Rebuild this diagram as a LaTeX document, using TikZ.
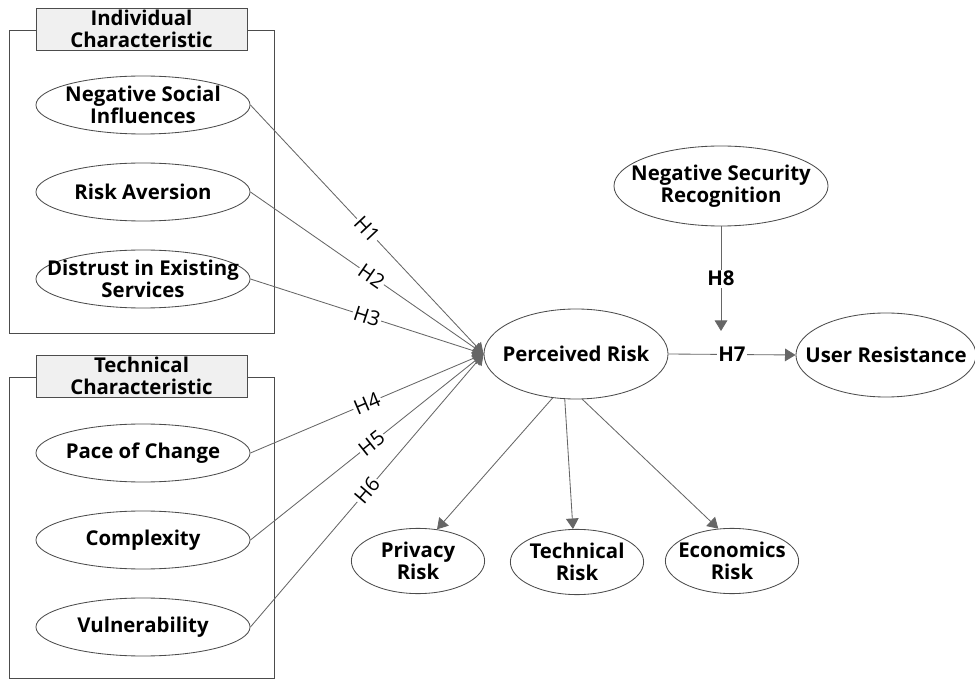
\documentclass[tikz,border=0pt]{standalone}
\usepackage{fontspec}
\setmainfont{Open Sans}
\usetikzlibrary{arrows.meta, calc, shapes.geometric}

\begin{document}
\begin{tikzpicture}[x=0.025cm, y=-0.025cm,
    >={Triangle[length=7.5pt, width=9pt]}, line width=0.6pt,
    font=\fontsize{14.5}{16}\selectfont\bfseries,
    lat/.style={ellipse, draw=black!70, align=center, inner sep=-20pt,
      minimum width=5.35cm, minimum height=1.45cm},
    small/.style={lat, minimum width=3.33cm, minimum height=1.63cm},
    group/.style={draw=black!70, fill=black!6, align=center, inner sep=0pt,
      minimum width=5.275cm, minimum height=1.05cm},
    link/.style={draw=black!60, ->},
    hyp/.style={fill=white, inner sep=1pt, font=\fontsize{14.5}{16}\selectfont\mdseries}]
  \useasboundingbox (0,0) rectangle (975,682);
  % marcos de los grupos
  \draw[black!70] (9,30) rectangle (274,333);
  \draw[black!70] (9,377) rectangle (274,678);
  \node[group] (indiv) at (141.5,29) {Individual\\Characteristic};
  \node[group] (tech) at (141.5,376) {Technical\\Characteristic};
  % constructos individuales
  \node[lat] (nsi) at (143,105) {Negative Social\\Influences};
  \node[lat] (ra) at (143,192) {Risk Aversion};
  \node[lat] (des) at (143,279) {Distrust in Existing\\Services};
  % constructos tecnicos
  \node[lat] (pc) at (143,453) {Pace of Change};
  \node[lat] (cx) at (143,540) {Complexity};
  \node[lat] (vu) at (143,627) {Vulnerability};
  % riesgo percibido y resistencia
  \node[lat, minimum width=4.6cm, minimum height=2.25cm] (pr) at (576,354) {Perceived Risk};
  \node[lat, minimum width=4.5cm, minimum height=2.1cm] (ur) at (886,355) {User Resistance};
  \node[lat, minimum width=5.35cm, minimum height=2cm] (nsr) at (721,186) {Negative Security\\Recognition};
  \coordinate (mod) at (721,331);
  % dimensiones del riesgo
  \node[small] (prv) at (418,561) {Privacy\\Risk};
  \node[small] (trk) at (577,562) {Technical\\Risk};
  \node[small] (erk) at (732,561) {Economics\\Risk};
  % hipotesis H1--H6
  \draw[link] (nsi.east) -- node[hyp, sloped, pos=0.5] {H1} (pr.west);
  \draw[link] (ra.east) -- node[hyp, sloped, pos=0.52] {H2} (pr.west);
  \draw[link] (des.east) -- node[hyp, sloped, pos=0.5] {H3} (pr.west);
  \draw[link] (pc.east) -- node[hyp, sloped, pos=0.5] {H4} (pr.west);
  \draw[link] (cx.east) -- node[hyp, sloped, pos=0.52] {H5} (pr.west);
  \draw[link] (vu.east) -- node[hyp, sloped, pos=0.5] {H6} (pr.west);
  % H7 y H8
  \draw[link] (pr.east) -- node[hyp, font=\fontsize{14.5}{16}\selectfont\bfseries] {H7} (ur.west);
  \draw[link] (nsr.south) -- node[hyp, font=\fontsize{14.5}{16}\selectfont\bfseries] {H8} (mod);
  % hacia las dimensiones
  \draw[link] (pr.-118) -- (prv.59);
  \draw[link] (pr.-104) -- (trk.97);
  \draw[link] (pr.-82) -- (erk.113);
\end{tikzpicture}
\end{document}
